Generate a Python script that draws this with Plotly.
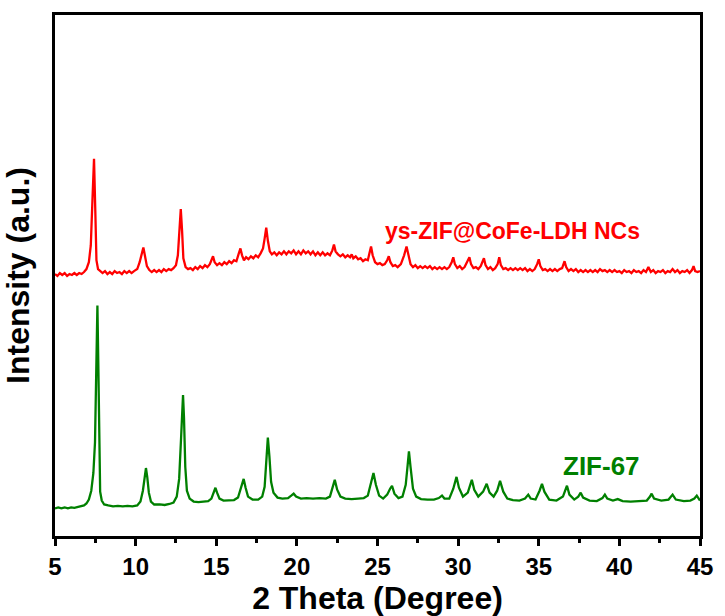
import plotly.graph_objects as go

# ---------------- data ----------------
# 2-theta (deg) and intensity (a.u.) pairs for each pattern
ZIF67_POINTS = [
    (5.0, 28), (5.2, 29), (5.4, 28), (5.6, 29), (5.8, 28), (6.0, 29), (6.2, 28.5), (6.4, 29.5),
    (6.6, 30), (6.8, 31), (6.95, 33), (7.1, 37), (7.25, 46), (7.38, 64), (7.48, 95), (7.56, 160),
    (7.63, 234), (7.69, 170), (7.74, 80), (7.8, 45), (7.9, 36), (8.05, 32), (8.3, 31), (8.6, 30),
    (8.9, 30.5), (9.2, 30), (9.5, 30.5), (9.8, 30), (10.1, 31), (10.3, 35), (10.45, 46), (10.56, 62),
    (10.64, 69), (10.72, 60), (10.82, 44), (10.95, 35), (11.15, 32), (11.5, 32), (11.8, 31.5),
    (12.1, 32.5), (12.35, 34), (12.55, 40), (12.7, 58), (12.82, 100), (12.9, 138), (12.94, 143),
    (13.0, 120), (13.08, 70), (13.18, 46), (13.35, 38), (13.6, 35), (13.9, 34.5), (14.2, 35),
    (14.5, 35.5), (14.7, 38), (14.85, 45), (14.95, 49), (15.05, 44), (15.2, 38), (15.45, 36),
    (15.8, 36), (16.1, 36.5), (16.35, 39), (16.55, 50), (16.7, 58), (16.82, 49), (16.97, 40),
    (17.25, 37), (17.6, 37), (17.85, 40), (18.0, 50), (18.1, 75), (18.2, 100), (18.3, 80),
    (18.4, 55), (18.55, 44), (18.8, 39), (19.1, 38), (19.45, 38.5), (19.65, 41), (19.8, 43),
    (19.95, 40), (20.25, 38), (20.6, 38.5), (21.0, 38), (21.4, 38.5), (21.8, 38), (22.05, 40),
    (22.2, 48), (22.35, 57), (22.5, 47), (22.7, 40), (23.0, 38), (23.4, 37.5), (23.8, 38),
    (24.15, 38.5), (24.4, 41), (24.6, 55), (24.75, 64), (24.9, 52), (25.1, 41), (25.35, 38),
    (25.6, 42), (25.78, 48), (25.9, 51), (26.05, 43), (26.3, 38.5), (26.55, 40), (26.75, 52),
    (26.87, 72), (26.95, 86), (27.05, 70), (27.2, 48), (27.4, 40), (27.7, 37.5), (28.1, 37),
    (28.5, 37), (28.8, 38.5), (29.0, 41), (29.15, 38), (29.45, 38), (29.7, 48), (29.9, 60),
    (30.05, 49), (30.3, 40), (30.6, 44), (30.85, 57), (31.0, 47), (31.25, 40), (31.55, 45),
    (31.77, 53), (31.95, 44), (32.2, 40), (32.42, 46), (32.6, 56), (32.8, 45), (33.05, 38),
    (33.4, 36.5), (33.8, 36), (34.15, 38), (34.35, 42), (34.5, 38), (34.8, 37), (35.05, 46),
    (35.2, 53), (35.35, 45), (35.65, 37), (36.1, 36), (36.5, 40), (36.75, 51), (36.9, 42),
    (37.2, 37), (37.45, 40), (37.6, 44), (37.75, 39), (38.15, 36), (38.6, 35.5), (38.95, 38.5),
    (39.1, 42), (39.25, 38), (39.6, 36), (39.9, 37.5), (40.2, 35.5), (40.7, 35), (41.2, 35.5),
    (41.7, 36), (41.9, 40), (42.0, 43), (42.15, 38), (42.6, 36), (43.05, 37), (43.3, 42),
    (43.5, 37), (44.0, 35.5), (44.4, 36), (44.65, 38), (44.8, 41), (44.95, 37), (45.0, 36),
]

YS_ZIF_COFE_POINTS = [
    (5.0, 26), (5.15, 24), (5.3, 27), (5.45, 25), (5.6, 27), (5.75, 24), (5.9, 26), (6.05, 25),
    (6.2, 27), (6.35, 25), (6.5, 27), (6.65, 26), (6.8, 28), (6.95, 31), (7.1, 38), (7.22, 55),
    (7.32, 100), (7.42, 143), (7.5, 90), (7.57, 40), (7.67, 31), (7.8, 29), (7.95, 27), (8.1, 29),
    (8.25, 26), (8.4, 28), (8.55, 26), (8.7, 29), (8.85, 27), (9.0, 28), (9.15, 26), (9.3, 29),
    (9.45, 27), (9.6, 29), (9.75, 27), (9.9, 29), (10.1, 31), (10.25, 38), (10.4, 50),
    (10.48, 53), (10.56, 46), (10.7, 34), (10.85, 30), (11.0, 28), (11.15, 30), (11.3, 28),
    (11.45, 30), (11.6, 28), (11.75, 31), (11.9, 29), (12.05, 31), (12.2, 30), (12.35, 32),
    (12.5, 35), (12.62, 45), (12.72, 70), (12.8, 92), (12.88, 70), (12.96, 42), (13.1, 33),
    (13.25, 31), (13.4, 32), (13.55, 30), (13.7, 33), (13.85, 31), (14.0, 34), (14.15, 32),
    (14.3, 35), (14.45, 33), (14.6, 36), (14.72, 41), (14.8, 44), (14.9, 38), (15.05, 35),
    (15.2, 37), (15.35, 35), (15.5, 38), (15.65, 36), (15.8, 39), (15.95, 37), (16.1, 40),
    (16.25, 39), (16.38, 46), (16.5, 52), (16.6, 45), (16.72, 40), (16.85, 43), (17.0, 41),
    (17.15, 44), (17.3, 42), (17.45, 45), (17.6, 43), (17.75, 47), (17.9, 52), (18.0, 62),
    (18.1, 73), (18.2, 60), (18.32, 49), (18.45, 46), (18.6, 48), (18.75, 45), (18.9, 48),
    (19.05, 46), (19.2, 49), (19.35, 46), (19.5, 49), (19.65, 47), (19.8, 50), (19.95, 46),
    (20.1, 49), (20.25, 46), (20.4, 50), (20.55, 47), (20.7, 49), (20.85, 46), (21.0, 49),
    (21.15, 45), (21.3, 48), (21.45, 45), (21.6, 48), (21.75, 45), (21.9, 47), (22.05, 45),
    (22.2, 50), (22.3, 56), (22.4, 49), (22.55, 46), (22.7, 44), (22.85, 46), (23.0, 43),
    (23.15, 45), (23.3, 43), (23.4, 46), (23.5, 42), (23.65, 44), (23.8, 41), (23.95, 42),
    (24.1, 39), (24.25, 41), (24.4, 40), (24.5, 47), (24.6, 54), (24.7, 45), (24.85, 38),
    (25.0, 36), (25.15, 37), (25.3, 35), (25.45, 36), (25.6, 40), (25.7, 44), (25.8, 38),
    (25.95, 34), (26.1, 35), (26.25, 33), (26.45, 36), (26.65, 45), (26.8, 54), (26.92, 44),
    (27.05, 36), (27.2, 33), (27.35, 35), (27.5, 32), (27.65, 34), (27.8, 32), (27.95, 34),
    (28.1, 32), (28.25, 34), (28.4, 31), (28.55, 33), (28.7, 31), (28.85, 33), (29.0, 31),
    (29.15, 33), (29.3, 31), (29.45, 33), (29.6, 38), (29.7, 43), (29.8, 36), (29.95, 32),
    (30.1, 34), (30.25, 31), (30.4, 33), (30.6, 39), (30.7, 43), (30.8, 36), (30.95, 32),
    (31.1, 33), (31.25, 31), (31.4, 34), (31.5, 38), (31.6, 42), (31.7, 35), (31.85, 31),
    (32.0, 33), (32.15, 30), (32.3, 32), (32.45, 36), (32.55, 43), (32.65, 35), (32.8, 31),
    (32.95, 32), (33.1, 30), (33.25, 32), (33.4, 30), (33.55, 32), (33.7, 30), (33.85, 32),
    (34.0, 30), (34.15, 32), (34.3, 29), (34.45, 31), (34.6, 29), (34.75, 31), (34.9, 36),
    (35.0, 41), (35.1, 34), (35.25, 30), (35.4, 31), (35.55, 29), (35.7, 31), (35.85, 29),
    (36.0, 31), (36.15, 29), (36.3, 31), (36.45, 32), (36.6, 39), (36.7, 33), (36.85, 29),
    (37.0, 31), (37.15, 29), (37.3, 31), (37.45, 28), (37.6, 30), (37.75, 28), (37.9, 30),
    (38.05, 28), (38.2, 30), (38.35, 28), (38.5, 30), (38.65, 28), (38.8, 31), (38.95, 29),
    (39.1, 30), (39.25, 28), (39.4, 30), (39.55, 28), (39.7, 30), (39.85, 28), (40.0, 29),
    (40.15, 27), (40.3, 30), (40.45, 28), (40.6, 29), (40.75, 27), (40.9, 30), (41.05, 28),
    (41.2, 29), (41.35, 27), (41.5, 30), (41.65, 28), (41.8, 33), (41.95, 28), (42.1, 30),
    (42.25, 27), (42.4, 29), (42.55, 28), (42.7, 30), (42.85, 27), (43.0, 29), (43.15, 28),
    (43.3, 31), (43.45, 28), (43.6, 30), (43.75, 27), (43.9, 29), (44.05, 28), (44.2, 30),
    (44.35, 27), (44.5, 30), (44.6, 34), (44.7, 29), (44.85, 28), (45.0, 29),
]

SERIES_NAMES = ["ys-ZIF@CoFe-LDH NCs", "ZIF-67"]
X_TICKS = [5, 10, 15, 20, 25, 30, 35, 40, 45]

# ---------------- styling ----------------
RED = "#FF0000"
GREEN = "#008000"
RED_OFFSET = 240  # vertical stacking offset for upper pattern
FONT = "Liberation Sans, Arial, sans-serif"

x_green = [p[0] for p in ZIF67_POINTS]
y_green = [p[1] for p in ZIF67_POINTS]
x_red = [p[0] for p in YS_ZIF_COFE_POINTS]
y_red = [p[1] + RED_OFFSET for p in YS_ZIF_COFE_POINTS]

fig = go.Figure()
fig.add_trace(go.Scatter(x=x_red, y=y_red, mode="lines", name=SERIES_NAMES[0],
                         line=dict(color=RED, width=2.3)))
fig.add_trace(go.Scatter(x=x_green, y=y_green, mode="lines", name=SERIES_NAMES[1],
                         line=dict(color=GREEN, width=2.3)))

fig.add_annotation(x=25.37, y=310, xref="x", yref="y", text=SERIES_NAMES[0],
                   showarrow=False, xanchor="left", yanchor="middle",
                   font=dict(family=FONT, size=23, color=RED, weight="bold"))
fig.add_annotation(x=36.4, y=71, xref="x", yref="y", text=SERIES_NAMES[1],
                   showarrow=False, xanchor="left", yanchor="middle",
                   font=dict(family=FONT, size=26, color=GREEN, weight="bold"))

fig.update_layout(
    width=725, height=616,
    margin=dict(l=55, r=20, t=12, b=75),
    paper_bgcolor="white", plot_bgcolor="white",
    showlegend=False,
    font=dict(family=FONT, color="black"),
)
fig.update_xaxes(
    range=[5, 45], tickvals=X_TICKS, ticktext=[str(v) for v in X_TICKS],
    ticks="outside", ticklen=7, tickwidth=3, tickcolor="black",
    showline=True, linewidth=3, linecolor="black", mirror=True,
    showgrid=False, zeroline=False,
    tickfont=dict(family=FONT, size=24, color="black", weight="bold"),
    minor=dict(ticks="outside", dtick=2.5, tick0=5, ticklen=4, tickwidth=2.5, tickcolor="black"),
    title=dict(text="2 Theta (Degree)", standoff=2,
               font=dict(family=FONT, size=32, color="black", weight="bold")),
)
fig.update_yaxes(
    range=[0, 529], showticklabels=False, ticks="",
    showline=True, linewidth=3, linecolor="black", mirror=True,
    showgrid=False, zeroline=False,
    title=dict(text="Intensity (a.u.)", standoff=14,
               font=dict(family=FONT, size=32, color="black", weight="bold")),
)

fig.write_html("out.html")
